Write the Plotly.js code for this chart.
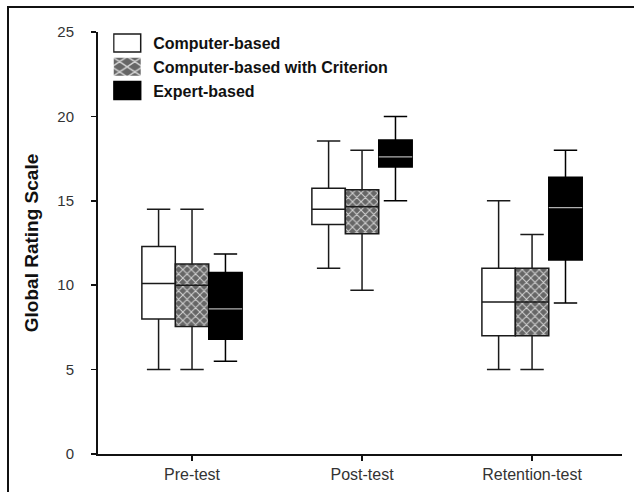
<!DOCTYPE html>
<html><head><meta charset="utf-8">
<script src="https://cdn.plot.ly/plotly-3.0.1.min.js"></script>
<style>
html,body{margin:0;padding:0;background:#fff;overflow:hidden;}
#frame{position:absolute;left:7px;top:6px;width:700px;height:600px;border-left:2px solid #111;border-top:2px solid #111;}
#chart{position:absolute;left:0;top:0;width:634px;height:492px;}
</style></head><body>
<div id="frame"></div><div id="chart"></div>
<script>
const categories = ['Pre-test', 'Post-test', 'Retention-test'];
const seriesNames = ['Computer-based', 'Computer-based with Criterion', 'Expert-based'];

// Computer-based
const cbLower  = [5, 11, 5];
const cbQ1     = [8, 13.6, 7];
const cbMedian = [10.1, 14.5, 9];
const cbQ3     = [12.3, 15.75, 11];
const cbUpper  = [14.5, 18.55, 15];

// Computer-based with Criterion
const crLower  = [5, 9.7, 5];
const crQ1     = [7.55, 13.05, 7];
const crMedian = [10, 14.65, 9];
const crQ3     = [11.25, 15.65, 11];
const crUpper  = [14.5, 18, 13];

// Expert-based
const exLower  = [5.5, 15, 8.95];
const exQ1     = [6.8, 17, 11.5];
const exMedian = [8.6, 17.6, 14.6];
const exQ3     = [10.75, 18.6, 16.4];
const exUpper  = [11.85, 20, 18];

const yTicks = [0, 5, 10, 15, 20, 25];

const FONT = 'Liberation Sans, Arial, sans-serif';
const BOXGAP = 0.41;
const boxW = (1 - BOXGAP) / 3;
const lineStyle = {color: '#1a1a1a', width: 1.5};

const traces = [
  {
    type: 'bar', name: seriesNames[1], x: categories,
    base: crQ1, y: crQ3.map((v, i) => v - crQ1[i]),
    width: categories.map(() => boxW),
    marker: {color: '#6a6a6a', line: {width: 0},
      pattern: {shape: 'x', bgcolor: '#666666', fgcolor: '#d4d4d4', size: 6, solidity: 0.3}},
    legendrank: 2, hoverinfo: 'skip'
  },
  {
    type: 'box', name: seriesNames[0], x: categories,
    q1: cbQ1, median: cbMedian, q3: cbQ3, lowerfence: cbLower, upperfence: cbUpper,
    boxpoints: false, fillcolor: '#ffffff', line: lineStyle, whiskerwidth: 0.7,
    offsetgroup: 'a', alignmentgroup: 'g', legendrank: 1
  },
  {
    type: 'box', name: seriesNames[1], x: categories,
    q1: crQ1, median: crMedian, q3: crQ3, lowerfence: crLower, upperfence: crUpper,
    boxpoints: false, fillcolor: 'rgba(0,0,0,0)', line: lineStyle, whiskerwidth: 0.7,
    offsetgroup: 'b', alignmentgroup: 'g', showlegend: false
  },
  {
    type: 'box', name: seriesNames[2], x: categories,
    q1: exQ1, median: exMedian, q3: exQ3, lowerfence: exLower, upperfence: exUpper,
    boxpoints: false, fillcolor: '#000000', line: {color: '#000000', width: 1.5}, whiskerwidth: 0.7,
    offsetgroup: 'c', alignmentgroup: 'g', legendrank: 3
  },
  {
    type: 'box', name: 'median', x: categories,
    q1: exMedian, median: exMedian, q3: exMedian, lowerfence: exMedian, upperfence: exMedian,
    boxpoints: false, fillcolor: 'rgba(0,0,0,0)', line: {color: '#b0b0b0', width: 1.2}, whiskerwidth: 0,
    offsetgroup: 'c', alignmentgroup: 'g', showlegend: false, hoverinfo: 'skip'
  }
];

const layout = {
  width: 634, height: 492,
  margin: {l: 98, r: 12, t: 32, b: 38},
  paper_bgcolor: 'rgba(0,0,0,0)', plot_bgcolor: 'rgba(0,0,0,0)',
  boxmode: 'group', boxgap: BOXGAP, boxgroupgap: 0,
  barmode: 'group',
  font: {family: FONT, color: '#222'},
  showlegend: true,
  legend: {x: 0.029, y: 1.014, xanchor: 'left', yanchor: 'top', bgcolor: 'rgba(0,0,0,0)',
    font: {family: FONT, size: 16, color: '#111', weight: 'bold'}, traceorder: 'normal'},
  xaxis: {
    type: 'category', categoryarray: categories, range: [-0.553, 2.529],
    showline: true, linecolor: '#111', linewidth: 2, ticks: 'outside', ticklen: 5,
    tickcolor: '#111', tickwidth: 1.5, showgrid: false, zeroline: false,
    tickfont: {family: FONT, size: 16, color: '#333'}
  },
  yaxis: {
    range: [0, 25], tickvals: yTicks, ticktext: yTicks.map(String),
    showline: true, linecolor: '#111', linewidth: 2, ticks: 'outside', ticklen: 5,
    tickcolor: '#111', tickwidth: 1.5, showgrid: false, zeroline: false,
    tickfont: {family: FONT, size: 15, color: '#333'}, ticklabelstandoff: 14,
    title: {text: '<b>Global Rating Scale</b>', font: {family: FONT, size: 19, color: '#111'}, standoff: 14}
  }
};

Plotly.newPlot('chart', traces, layout, {staticPlot: true}).then(gd => {
  // enlarge legend swatches to match the reference's wide rectangular keys
  gd.querySelectorAll('.legend .legendpoints path').forEach(p => {
    p.setAttribute('transform', 'translate(14,0) scale(2.25,1.5)');
    p.style.vectorEffect = 'non-scaling-stroke';
  });
});
</script>
</body></html>
